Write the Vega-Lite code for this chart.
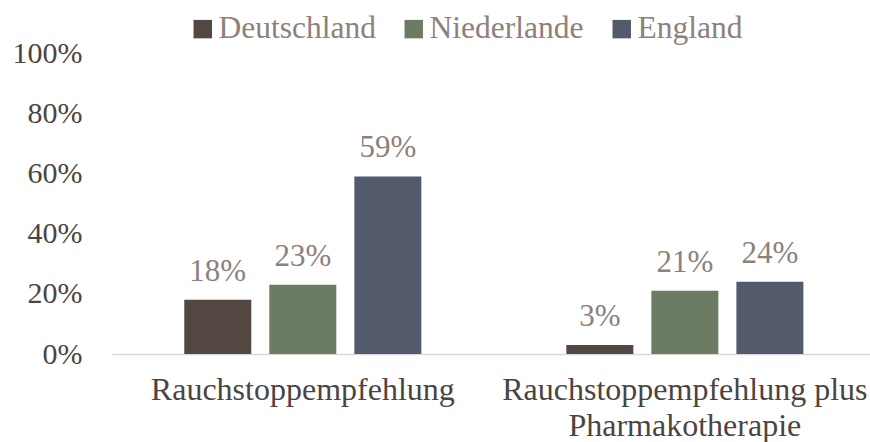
{
  "$schema": "https://vega.github.io/schema/vega-lite/v6.json",
  "width": 758,
  "height": 301,
  "autosize": {"type": "none"},
  "padding": {"left": 112, "top": 53, "right": 0, "bottom": 88},
  "background": "white",
  "config": {
    "font": "Liberation Serif",
    "view": {"stroke": null}
  },
  "data": {
    "values": [
      {"kategorie": "Rauchstoppempfehlung", "land": "Deutschland", "wert": 0.18},
      {"kategorie": "Rauchstoppempfehlung", "land": "Niederlande", "wert": 0.23},
      {"kategorie": "Rauchstoppempfehlung", "land": "England", "wert": 0.59},
      {"kategorie": "Rauchstoppempfehlung plus Pharmakotherapie", "land": "Deutschland", "wert": 0.03},
      {"kategorie": "Rauchstoppempfehlung plus Pharmakotherapie", "land": "Niederlande", "wert": 0.21},
      {"kategorie": "Rauchstoppempfehlung plus Pharmakotherapie", "land": "England", "wert": 0.24}
    ]
  },
  "encoding": {
    "x": {
      "field": "kategorie",
      "type": "nominal",
      "sort": null,
      "scale": {"paddingInner": 0.116, "paddingOuter": 0.05, "align": 0.574},
      "axis": {
        "title": null,
        "labelAngle": 0,
        "ticks": false,
        "domain": true,
        "domainColor": "#d9d9d9",
        "domainWidth": 1.5,
        "labelFont": "Liberation Serif",
        "labelFontSize": 32,
        "labelColor": "#4b4541",
        "labelPadding": 20,
        "labelLineHeight": 36,
        "labelLimit": 0,
        "labelExpr": "datum.label == 'Rauchstoppempfehlung plus Pharmakotherapie' ? ['Rauchstoppempfehlung plus', 'Pharmakotherapie'] : datum.label"
      }
    },
    "xOffset": {
      "field": "land",
      "type": "nominal",
      "sort": ["Deutschland", "Niederlande", "England"],
      "scale": {"paddingInner": 0.212, "paddingOuter": 0.592}
    }
  },
  "layer": [
    {
      "mark": {"type": "bar"},
      "encoding": {
        "y": {
          "field": "wert",
          "type": "quantitative",
          "scale": {"domain": [0, 1]},
          "axis": {
            "title": null,
            "format": ".0%",
            "values": [0, 0.2, 0.4, 0.6, 0.8, 1],
            "grid": false,
            "ticks": false,
            "domain": false,
            "labelFont": "Liberation Serif",
            "labelFontSize": 30,
            "labelColor": "#4b4541",
            "labelPadding": 30
          }
        },
        "color": {
          "field": "land",
          "type": "nominal",
          "sort": ["Deutschland", "Niederlande", "England"],
          "scale": {
            "domain": ["Deutschland", "Niederlande", "England"],
            "range": ["#524841", "#6b7c63", "#525a6b"]
          },
          "legend": {
            "title": null,
            "orient": "none",
            "direction": "horizontal",
            "legendX": 75,
            "legendY": -40,
            "symbolType": "square",
            "symbolSize": 340,
            "symbolStrokeWidth": 0,
            "labelFont": "Liberation Serif",
            "labelFontSize": 31.5,
            "labelColor": "#8c817c",
            "labelOffset": 0,
            "labelLimit": 0,
            "columnPadding": 22
          }
        }
      }
    },
    {
      "mark": {
        "type": "text",
        "font": "Liberation Serif",
        "fontSize": 31,
        "color": "#8c817c",
        "baseline": "alphabetic",
        "dy": -19
      },
      "encoding": {
        "y": {"field": "wert", "type": "quantitative"},
        "text": {"field": "wert", "type": "quantitative", "format": ".0%"}
      }
    }
  ]
}
